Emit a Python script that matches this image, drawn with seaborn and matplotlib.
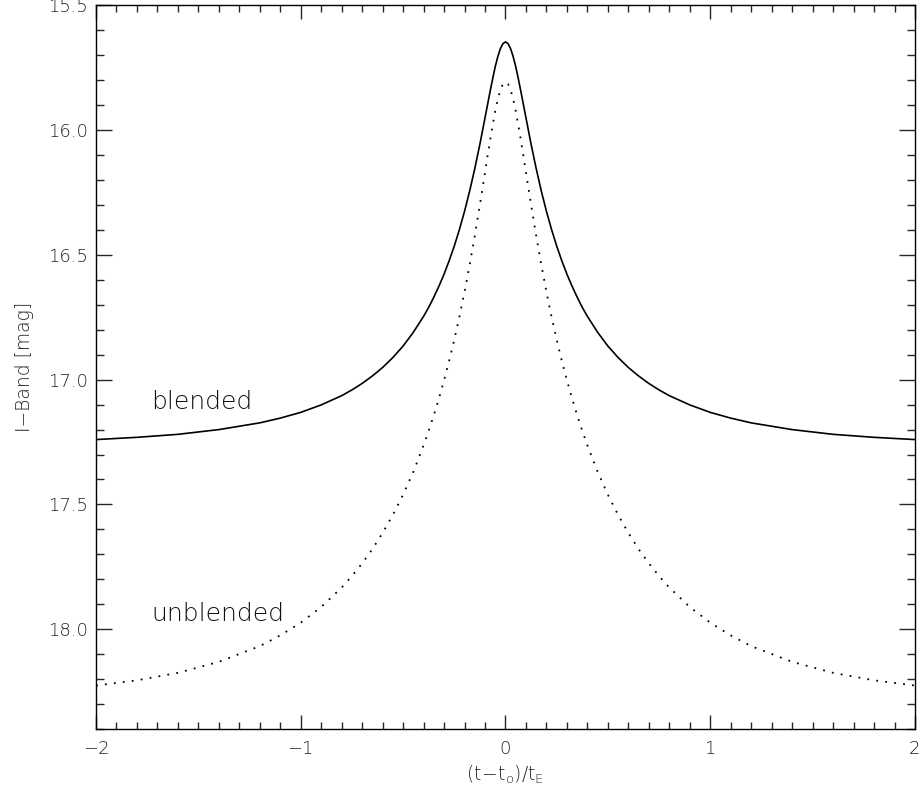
import matplotlib
matplotlib.use("Agg")
import matplotlib.pyplot as plt
from matplotlib.ticker import MultipleLocator
import seaborn as sns
import pandas as pd

# Normalised time from peak, (t - t0) / tE
t_half = [0.0, 0.0125, 0.025, 0.0375, 0.05, 0.0625, 0.075, 0.0875, 0.1, 0.125,
          0.15, 0.175, 0.2, 0.225, 0.25, 0.275, 0.3, 0.325, 0.35, 0.375, 0.4,
          0.45, 0.5, 0.55, 0.6, 0.65, 0.7, 0.75, 0.8, 0.9, 1.0, 1.1, 1.2, 1.4,
          1.6, 1.8, 2.0]

# I-band magnitude of the blended light curve
blended_half = [15.646, 15.653, 15.673, 15.705, 15.745, 15.793, 15.844, 15.897,
                15.950, 16.056, 16.154, 16.244, 16.325, 16.398, 16.464, 16.523,
                16.577, 16.625, 16.669, 16.710, 16.746, 16.810, 16.865, 16.911,
                16.951, 16.985, 17.015, 17.041, 17.064, 17.101, 17.131, 17.154,
                17.173, 17.200, 17.219, 17.231, 17.240]

# I-band magnitude of the unblended light curve
unblended_half = [15.807, 15.815, 15.839, 15.875, 15.923, 15.979, 16.040, 16.103,
                  16.169, 16.299, 16.423, 16.540, 16.648, 16.748, 16.839, 16.924,
                  17.002, 17.075, 17.142, 17.205, 17.263, 17.369, 17.461, 17.542,
                  17.614, 17.679, 17.736, 17.787, 17.833, 17.911, 17.974, 18.025,
                  18.068, 18.131, 18.175, 18.205, 18.226]

x_ticks = [-2, -1, 0, 1, 2]
y_ticks = [15.5, 16.0, 16.5, 17.0, 17.5, 18.0]

# symmetric event: mirror the half curves about the peak
t = [-v for v in t_half[:0:-1]] + t_half
blended = blended_half[:0:-1] + blended_half
unblended = unblended_half[:0:-1] + unblended_half

df = pd.DataFrame({"t": t + t,
                   "mag": blended + unblended,
                   "curve": ["blended"] * len(t) + ["unblended"] * len(t)})

sns.set_theme(style="ticks")
plt.rcParams["font.family"] = ["DejaVu Sans"]
plt.rcParams["font.weight"] = "light"
plt.rcParams["mathtext.default"] = "regular"

fig = plt.figure(figsize=(9.22, 7.94), dpi=100)
ax = fig.add_axes([0.1041, 0.0819, 0.8883, 0.9112])

sns.lineplot(data=df[df.curve == "blended"], x="t", y="mag", ax=ax,
             color="black", lw=1.2, sort=True, estimator=None)
sns.lineplot(data=df[df.curve == "unblended"], x="t", y="mag", ax=ax,
             color="black", lw=1.3, linestyle=(0, (1, 4)), sort=True, estimator=None)

ax.set_xlim(-2, 2)
ax.set_ylim(18.4, 15.5)
ax.set_xticks(x_ticks)
ax.set_xticklabels(["\u2212" + str(abs(v)) if v < 0 else str(v) for v in x_ticks],
                   fontweight="light")
ax.set_yticks(y_ticks)
ax.set_yticklabels([f"{v:.1f}" for v in y_ticks], fontweight="light")
ax.xaxis.set_minor_locator(MultipleLocator(0.1))
ax.yaxis.set_minor_locator(MultipleLocator(0.1))

for side in ["top", "right", "bottom", "left"]:
    ax.spines[side].set_visible(True)
    ax.spines[side].set_linewidth(1.0)
    ax.spines[side].set_color("black")

ax.tick_params(axis="x", which="major", direction="in", length=10, width=1.0,
               top=True, bottom=True, labelsize=13, labelcolor="#222222", pad=8)
ax.tick_params(axis="x", which="minor", direction="in", length=5, width=1.0,
               top=True, bottom=True)
ax.tick_params(axis="y", which="major", direction="in", length=11.5, width=1.0,
               left=True, right=True, labelsize=13, labelcolor="#222222", pad=6)
ax.tick_params(axis="y", which="minor", direction="in", length=5.8, width=1.0,
               left=True, right=True)

ax.set_xlabel(r"$(t\!-\!t_{o})/t_{E}$", fontsize=13.5, color="#222222",
              fontweight="light", labelpad=4)
ax.set_ylabel("I\u2212Band [mag]", fontsize=13.5, color="#222222",
              fontweight="light", labelpad=10)

ax.text(-1.73, 17.09, "blended", fontsize=18, color="#111111",
        fontweight="light", ha="left", va="center")
ax.text(-1.73, 17.94, "unblended", fontsize=18, color="#111111",
        fontweight="light", ha="left", va="center")

fig.savefig("out.png", dpi=100)
